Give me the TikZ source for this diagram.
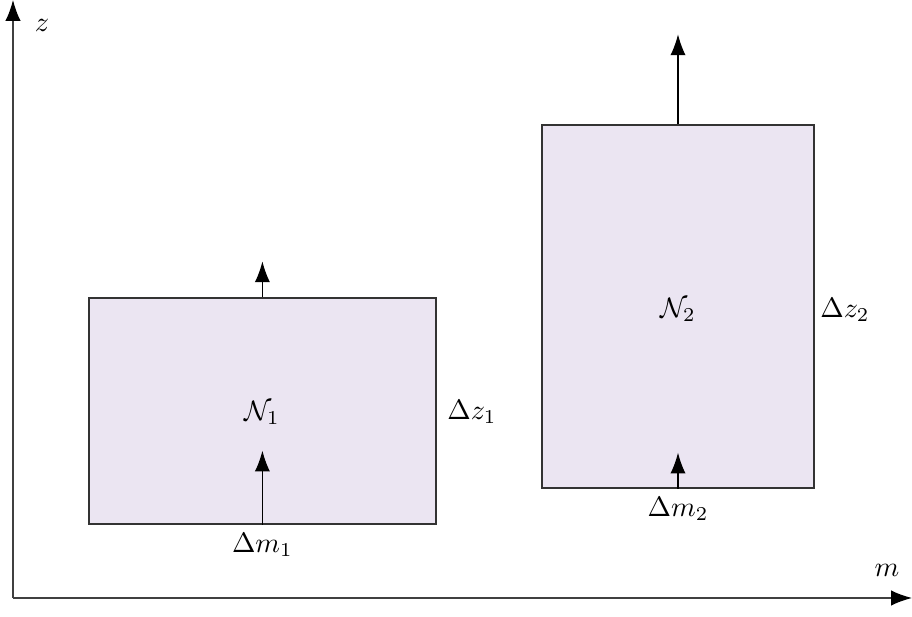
\documentclass[tikz,border=0pt]{standalone}
\usepackage{amsmath,amssymb}
\usetikzlibrary{arrows.meta,positioning}
\definecolor{cellfill}{RGB}{235,229,242}

\begin{document}
\begin{tikzpicture}[
    cell/.style={draw=black!80, fill=cellfill, inner sep=0pt},
    lbl/.style={inner sep=1pt},
    every path/.style={line width=0.45pt},
    flow/.style={-{Latex[length=2.6mm,width=1.9mm,color=black]}}]
    \useasboundingbox (0,0) rectangle (11.4,7.7125);
    % axes
    \coordinate (origin) at (0.1625,0.2375);
    \coordinate (ztop) at (0.1625,7.7125);
    \coordinate (mend) at (11.4,0.2375);
    \draw[flow, black!75] (origin) -- (ztop);
    \draw[flow, black!75] (origin) -- (mend);
    \node[lbl] (zlab) at (0.525,7.4) {$z$};
    \node[lbl] (mlab) at (11.0875,0.5875) {$m$};
    % first cell
    \node[cell, minimum width=4.3375cm, minimum height=2.825cm] (c1) at (3.28,2.575) {};
    \node[lbl] (n1) at (3.275,2.55) {$\mathcal{N}_1$};
    \node[lbl] (dz1) at (5.9,2.5625) {$\Delta z_1$};
    \node[lbl, below=0.06cm of c1] (dm1) {$\Delta m_1$};
    \coordinate[above=0.45cm of c1.north] (c1out);
    \coordinate[above=0.925cm of c1.south] (c1in);
    \draw[flow] (c1.north) -- (c1out);
    \draw[flow] (c1.south) -- (c1in);
    % second cell
    \node[cell, minimum width=3.4cm, minimum height=4.5375cm] (c2) at (8.475,3.88125) {};
    \node[lbl] (n2) at (8.475,3.8375) {$\mathcal{N}_2$};
    \node[lbl] (dz2) at (10.5625,3.8375) {$\Delta z_2$};
    \node[lbl, below=0.06cm of c2] (dm2) {$\Delta m_2$};
    \coordinate[above=1.125cm of c2.north] (c2out);
    \coordinate[above=0.45cm of c2.south] (c2in);
    \draw[flow] (c2.north) -- (c2out);
    \draw[flow] (c2.south) -- (c2in);
\end{tikzpicture}
\end{document}
